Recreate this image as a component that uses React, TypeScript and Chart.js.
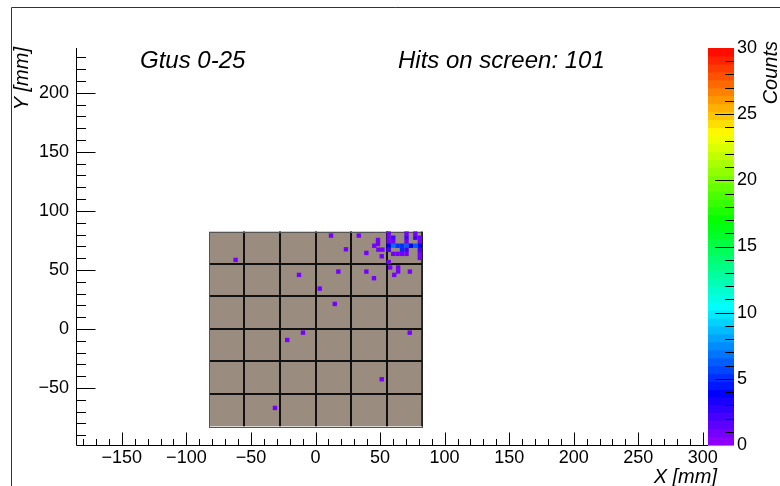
import React, { useEffect, useRef } from 'react';
import { Chart, registerables } from 'chart.js';

Chart.register(...registerables);

// ---- data ----
const titleLeft = 'Gtus 0-25';
const titleRight = 'Hits on screen: 101';
const xTitle = 'X [mm]';
const yTitle = 'Y [mm]';
const zTitle = 'Counts';

const xTickLabels = [-150, -100, -50, 0, 50, 100, 150, 200, 250, 300];
const yTickLabels = [-50, 0, 50, 100, 150, 200];
const zTickLabels = [0, 5, 10, 15, 20, 25, 30];

// PMT tile boundaries (mm)
const tileEdges = [-82.5, -55, -27.5, 0, 27.5, 55, 82.5];

// hit pixels: x (mm), y (mm), counts
const hitX = [
  -61.9, 12.0, 23.6, 33.5, 48.4, 48.4, 45.5, 48.7, 51.8, 39.4, 51.3,
  -12.8, 17.7, 3.3, 39.4, 45.3, 57.8, 64.0, 64.0, 61.0, 73.1,
  14.9, -9.7, -21.9, 73.0, 51.3, -31.4,
  56.7, 70.5, 77.3,
  56.7, 60.2, 70.5, 77.3, 80.8,
  56.7, 60.2, 70.5, 80.8,
  56.7, 60.2, 63.6, 67.0, 70.5, 73.9, 77.3, 80.8,
  56.7, 67.0, 70.5, 80.8,
  60.2, 63.6, 67.0, 70.5, 80.8,
  80.8,
  56.7,
];
const hitY = [
  58.5, 79.1, 67.5, 79.1, 75.4, 72.0, 70.5, 67.2, 67.2, 64.4, 61.6,
  45.8, 48.6, 34.2, 48.6, 43.0, 52.1, 52.1, 48.7, 45.8, 48.6,
  21.2, -3.1, -9.3, -3.1, -42.6, -66.9,
  80.8, 80.8, 80.8,
  77.3, 77.3, 77.3, 77.3, 77.3,
  73.9, 73.9, 73.9, 73.9,
  70.5, 70.5, 70.5, 70.5, 70.5, 70.5, 70.5, 70.5,
  67.0, 67.0, 67.0, 67.0,
  63.6, 63.6, 63.6, 63.6, 63.6,
  60.2,
  56.7,
];
const hitCounts = [
  1, 1, 1, 1, 1, 1, 1, 1, 1, 1, 1,
  1, 1, 1, 1, 1, 1, 1, 1, 1, 1,
  1, 1, 1, 1, 1, 1,
  1, 1, 1,
  1, 2, 2, 2, 1,
  1, 1, 1, 1,
  4, 7, 5, 5, 6, 4, 6, 4,
  2, 5, 2, 2,
  1, 1, 1, 1, 1,
  1,
  1,
];

// ---- styling ----
const FONT = '"Liberation Sans", Arial, Helvetica, sans-serif';
const X_MIN = -185.5;
const X_MAX = 304;
const Y_MIN = -98.3;
const Y_MAX = 238;
const Z_MIN = 0;
const Z_MAX = 30;
const N_COLORS = 50;
const TILE_FILL = '#9a8c7e';

function paletteColor(k: number): string {
  const hue = 276 * (1 - (k + 0.5) / N_COLORS);
  return `hsl(${hue.toFixed(1)}, 100%, 50%)`;
}
function countColor(c: number): string {
  const k = Math.min(N_COLORS - 1, Math.floor(((c - Z_MIN) / (Z_MAX - Z_MIN)) * N_COLORS));
  return paletteColor(k);
}

const fmt = (v: number) => (v < 0 ? '\u2212' + Math.abs(v) : String(v));

const decorPlugin = {
  id: 'decor',
  beforeDatasetsDraw(chart: any) {
    const { ctx, scales } = chart;
    const x = scales.x;
    const y = scales.y;
    const n = tileEdges.length;
    const x0 = x.getPixelForValue(tileEdges[0]);
    const x1 = x.getPixelForValue(tileEdges[n - 1]);
    const y0 = y.getPixelForValue(tileEdges[n - 1]);
    const y1 = y.getPixelForValue(tileEdges[0]);
    ctx.save();
    ctx.fillStyle = TILE_FILL;
    ctx.fillRect(x0, y0, x1 - x0, y1 - y0);
    ctx.strokeStyle = '#111';
    ctx.lineWidth = 2;
    ctx.beginPath();
    for (let i = 1; i < n - 1; i++) {
      const px = Math.round(x.getPixelForValue(tileEdges[i]));
      ctx.moveTo(px, y0);
      ctx.lineTo(px, y1);
      const py = Math.round(y.getPixelForValue(tileEdges[i]));
      ctx.moveTo(x0, py);
      ctx.lineTo(x1, py);
    }
    ctx.stroke();
    ctx.strokeStyle = '#555';
    ctx.lineWidth = 1;
    ctx.strokeRect(Math.round(x0) + 0.5, Math.round(y0) + 0.5, Math.round(x1 - x0), Math.round(y1 - y0));
    ctx.strokeStyle = '#111';
    ctx.lineWidth = 1.5;
    ctx.beginPath();
    ctx.moveTo(Math.round(x1), y0);
    ctx.lineTo(Math.round(x1), y1);
    ctx.stroke();
    ctx.restore();
  },
  afterDraw(chart: any) {
    const { ctx, scales, chartArea } = chart;
    const x = scales.x;
    const y = scales.y;
    const z = scales.z;
    ctx.save();

    // pad border
    ctx.strokeStyle = '#333';
    ctx.lineWidth = 1;
    ctx.beginPath();
    ctx.moveTo(11.5, 486);
    ctx.lineTo(11.5, 7.5);
    ctx.lineTo(780, 7.5);
    ctx.stroke();

    // axis lines
    ctx.strokeStyle = '#000';
    ctx.beginPath();
    const ax = Math.round(chartArea.left) + 0.5;
    const ay = Math.round(chartArea.bottom) + 0.5;
    ctx.moveTo(ax, chartArea.top);
    ctx.lineTo(ax, ay);
    ctx.lineTo(chartArea.right, ay);
    ctx.stroke();

    // x ticks (inward)
    ctx.beginPath();
    for (let v = Math.ceil(X_MIN / 10) * 10; v <= X_MAX; v += 10) {
      const px = Math.round(x.getPixelForValue(v)) + 0.5;
      const len = v % 50 === 0 ? 13 : 6.5;
      ctx.moveTo(px, ay);
      ctx.lineTo(px, ay - len);
    }
    // y ticks (inward)
    for (let v = Math.ceil(Y_MIN / 10) * 10; v <= Y_MAX; v += 10) {
      const py = Math.round(y.getPixelForValue(v)) + 0.5;
      const len = v % 50 === 0 ? 19 : 9.5;
      ctx.moveTo(ax, py);
      ctx.lineTo(ax + len, py);
    }
    ctx.stroke();

    // palette
    const pl = chartArea.right;
    const pr = chartArea.right + 26;
    for (let k = 0; k < N_COLORS; k++) {
      const v0 = Z_MIN + (k * (Z_MAX - Z_MIN)) / N_COLORS;
      const v1 = Z_MIN + ((k + 1) * (Z_MAX - Z_MIN)) / N_COLORS;
      const pa = z.getPixelForValue(v1);
      const pb = z.getPixelForValue(v0);
      ctx.fillStyle = paletteColor(k);
      ctx.fillRect(pl, pa, pr - pl, pb - pa + 0.6);
    }
    ctx.strokeStyle = '#000';
    ctx.beginPath();
    for (let v = Z_MIN + 1; v < Z_MAX; v += 1) {
      const py = Math.round(z.getPixelForValue(v)) + 0.5;
      const len = v % 5 === 0 ? 19 : 9;
      ctx.moveTo(pr, py);
      ctx.lineTo(pr - len, py);
    }
    ctx.stroke();

    // titles
    ctx.fillStyle = '#000';
    ctx.textBaseline = 'alphabetic';
    ctx.font = `italic 24px ${FONT}`;
    ctx.textAlign = 'left';
    ctx.fillText(titleLeft, 140, 68);
    ctx.fillText(titleRight, 398, 68);

    ctx.font = `italic 20px ${FONT}`;
    ctx.textAlign = 'right';
    ctx.fillText(xTitle, 717, 483);

    ctx.save();
    ctx.translate(28, 47);
    ctx.rotate(-Math.PI / 2);
    ctx.textAlign = 'right';
    ctx.fillText(yTitle, 0, 0);
    ctx.restore();

    ctx.save();
    ctx.translate(777, 41);
    ctx.rotate(-Math.PI / 2);
    ctx.textAlign = 'right';
    ctx.fillText(zTitle, 0, 0);
    ctx.restore();

    ctx.restore();
  },
};

export default function App() {
  const ref = useRef<HTMLCanvasElement | null>(null);

  useEffect(() => {
    if (!ref.current) return;
    const points = hitX.map((xv, i) => ({ x: xv, y: hitY[i] }));
    const colors = hitCounts.map((c) => countColor(c));
    const tickFont = { family: FONT, size: 18 };
    const chart = new Chart(ref.current, {
      type: 'scatter',
      data: {
        datasets: [
          {
            label: 'Counts',
            data: points,
            pointStyle: 'rect',
            pointRadius: 3.1,
            pointHoverRadius: 3.1,
            backgroundColor: colors,
            borderWidth: 0,
          },
        ],
      },
      options: {
        responsive: false,
        animation: false,
        devicePixelRatio: 1,
        events: [],
        layout: { padding: { top: 48, right: 0, bottom: 1, left: 0 } },
        plugins: {
          legend: { display: false },
          tooltip: { enabled: false },
          title: { display: false },
        },
        scales: {
          x: {
            type: 'linear',
            position: 'bottom',
            min: X_MIN,
            max: X_MAX,
            grid: { display: false, drawTicks: false },
            border: { display: false },
            ticks: {
              color: '#000',
              font: tickFont,
              padding: 2,
              autoSkip: false,
              maxRotation: 0,
              callback: (v: any) => fmt(Number(v)),
            },
            afterBuildTicks: (s: any) => {
              s.ticks = xTickLabels.map((v) => ({ value: v }));
            },
            afterFit: (s: any) => {
              s.height = 40;
            },
          },
          y: {
            type: 'linear',
            position: 'left',
            min: Y_MIN,
            max: Y_MAX,
            grid: { display: false, drawTicks: false },
            border: { display: false },
            ticks: {
              color: '#000',
              font: tickFont,
              padding: 7,
              autoSkip: false,
              callback: (v: any) => fmt(Number(v)),
            },
            afterBuildTicks: (s: any) => {
              s.ticks = yTickLabels.map((v) => ({ value: v }));
            },
            afterFit: (s: any) => {
              s.width = 76;
            },
          },
          z: {
            type: 'linear',
            position: 'right',
            min: Z_MIN,
            max: Z_MAX,
            grid: { display: false, drawTicks: false },
            border: { display: false },
            ticks: {
              color: '#000',
              font: tickFont,
              padding: 29,
              autoSkip: false,
              callback: (v: any) => String(v),
            },
            afterBuildTicks: (s: any) => {
              s.ticks = zTickLabels.map((v) => ({ value: v }));
            },
            afterFit: (s: any) => {
              s.width = 72;
            },
          },
        },
      } as any,
      plugins: [decorPlugin],
    });
    return () => chart.destroy();
  }, []);

  return (
    <canvas
      ref={ref}
      width={780}
      height={486}
      style={{ position: 'fixed', left: 0, top: 0, width: 780, height: 486, background: '#fff' }}
    />
  );
}
